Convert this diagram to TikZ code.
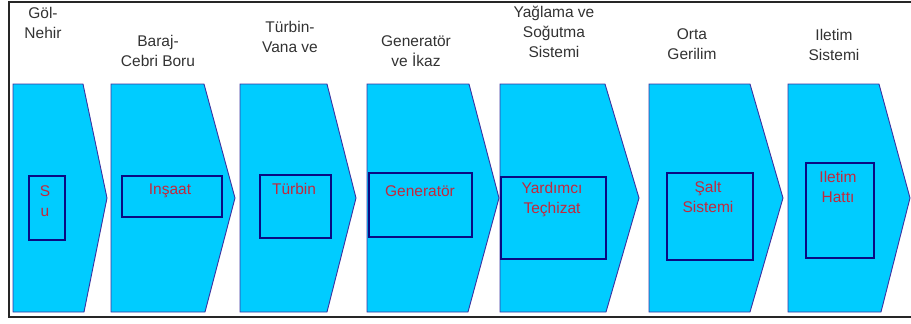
\documentclass[tikz,border=0pt]{standalone}
\usepackage{fontspec}
\setmainfont{Liberation Sans}
\definecolor{arrowfill}{RGB}{0,204,255}
\definecolor{arrowline}{RGB}{60,50,160}
\definecolor{boxline}{RGB}{10,10,130}
\definecolor{labelred}{RGB}{195,40,60}
\definecolor{toplabel}{RGB}{50,50,50}
\tikzset{
  chev/.style={fill=arrowfill, draw=arrowline, line width=0.9pt, line join=miter},
  inbox/.style={draw=boxline, line width=1.4pt},
  redtxt/.style={text=labelred, font=\fontsize{15.5}{20}\selectfont, align=center, inner sep=0pt},
  toptxt/.style={text=toplabel, font=\fontsize{15.5}{20}\selectfont, align=center, inner sep=0pt},
  frameline/.style={draw=black!85, line width=2pt}
}
% chevron: left x, top-right x, tip x, bottom-right x
\newcommand{\chevron}[4]{%
  \path[chev] (#1,84) -- (#2,84) -- (#3,198) -- (#4,312) -- (#1,312) -- cycle;}
\begin{document}
\begin{tikzpicture}[x=1pt,y=-1pt]
\useasboundingbox (0,0) rectangle (911,324);
% outer frame (left, top and bottom sides)
\draw[frameline] (930,1.5) -- (9,1.5) -- (9,317) -- (930,317);

% stage chevrons
\chevron{13}{83}{107}{84}
\chevron{111}{204}{235}{205}
\chevron{240}{327}{356}{327}
\chevron{367}{469}{499}{468}
\chevron{500}{605}{639}{606}
\chevron{649}{750}{783}{750}
\chevron{788}{879}{910}{881}

% inner boxes
\draw[inbox] (29,176) rectangle (65,240);
\draw[inbox] (122,176) rectangle (222,217);
\draw[inbox] (260,175) rectangle (331,238);
\draw[inbox] (369,173) rectangle (472,237);
\draw[inbox] (501,177) rectangle (606,259);
\draw[inbox] (667,173) rectangle (753,260);
\draw[inbox] (806,163) rectangle (874,258);

% component names
\node[redtxt] (su)   at (45,201)    {S\\u};
\node[redtxt] (ins)  at (170,191)   {Inşaat};
\node[redtxt] (tur)  at (294,189)   {Türbin};
\node[redtxt] (gen)  at (420,191)   {Generatör};
\node[redtxt] (yar)  at (552,200)   {Yardımcı\\Teçhizat};
\node[redtxt] (salt) at (708,197)   {Şalt\\Sistemi};
\node[redtxt] (ilh)  at (838,186.5) {Iletim\\Hattı};

% stage titles
\node[toptxt] (t1) at (43,23)   {Göl-\\Nehir};
\node[toptxt] (t2) at (158,51)  {Baraj-\\Cebri Boru};
\node[toptxt] (t3) at (290,37)  {Türbin-\\Vana ve};
\node[toptxt] (t4) at (416,51.5){Generatör\\ve İkaz};
\node[toptxt] (t5) at (554,32)  {Yağlama ve\\Soğutma\\Sistemi};
\node[toptxt] (t6) at (692,44)  {Orta\\Gerilim};
\node[toptxt] (t7) at (834,44.5){Iletim\\Sistemi};
\end{tikzpicture}
\end{document}
